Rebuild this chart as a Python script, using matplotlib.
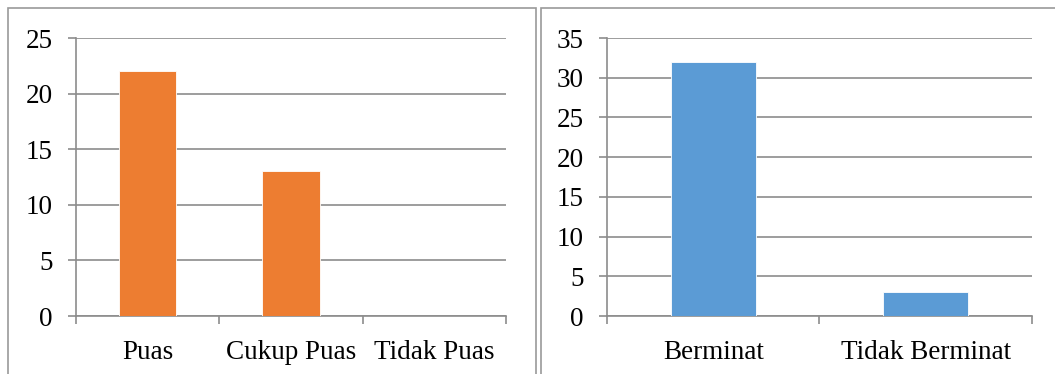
import matplotlib
matplotlib.use("Agg")
import matplotlib.pyplot as plt
from matplotlib.patches import Rectangle
import numpy as np

# Kepuasan responden
kepuasan_labels = ["Puas", "Cukup Puas", "Tidak Puas"]
kepuasan_values = [22, 13, 0]
kepuasan_yticks = [0, 5, 10, 15, 20, 25]

# Minat responden
minat_labels = ["Berminat", "Tidak Berminat"]
minat_values = [32, 3]
minat_yticks = [0, 5, 10, 15, 20, 25, 30, 35]

ORANGE = "#ED7D31"
BLUE = "#5B9BD5"
GRID = "#8C8C8C"
FONT = "Liberation Serif"
FS = 19.5

W, H = 1055, 374
fig = plt.figure(figsize=(W / 100, H / 100), dpi=100)
fig.patch.set_facecolor("white")

# panel frames
for x0, x1 in [(8, 536), (541, 1060)]:
    fig.patches.append(Rectangle((x0 / W, -0.05), (x1 - x0) / W, (H - 8) / H + 0.05,
                                 transform=fig.transFigure, fill=False,
                                 edgecolor="#9A9A9A", linewidth=1.2, zorder=0))


def bar_panel(rect, labels, values, yticks, color):
    ax = fig.add_axes(rect)
    n = len(labels)
    x = np.arange(n)
    ax.bar(x, values, width=0.4, color=color, edgecolor="white",
           linewidth=0.6, zorder=3)
    ax.set_xlim(-0.5, n - 0.5)
    ax.set_ylim(yticks[0], yticks[-1])
    ax.set_yticks(yticks)
    ax.set_yticklabels([str(v) for v in yticks], fontfamily=FONT, fontsize=FS)
    ax.set_xticks(x)
    ax.set_xticklabels(labels, fontfamily=FONT, fontsize=FS)
    ax.set_xticks(np.arange(n + 1) - 0.5, minor=True)
    ax.tick_params(axis="x", which="major", length=0, pad=17)
    ax.tick_params(axis="x", which="minor", length=5.5, width=1.2,
                   color=GRID, direction="out")
    ax.tick_params(axis="y", length=6, width=1.2, color=GRID, pad=11,
                   direction="out")
    ax.yaxis.grid(True, color=GRID, linewidth=1.2, zorder=0)
    ax.set_axisbelow(True)
    for side in ["top", "right"]:
        ax.spines[side].set_visible(False)
    for side in ["left", "bottom"]:
        ax.spines[side].set_color(GRID)
        ax.spines[side].set_linewidth(1.2)
    ax.set_facecolor("none")
    return ax


bar_panel([76 / W, 58 / H, (506 - 76) / W, 278 / H],
          kepuasan_labels, kepuasan_values, kepuasan_yticks, ORANGE)
bar_panel([607 / W, 58 / H, (1032 - 607) / W, 278 / H],
          minat_labels, minat_values, minat_yticks, BLUE)

fig.savefig("out.png", dpi=100)
